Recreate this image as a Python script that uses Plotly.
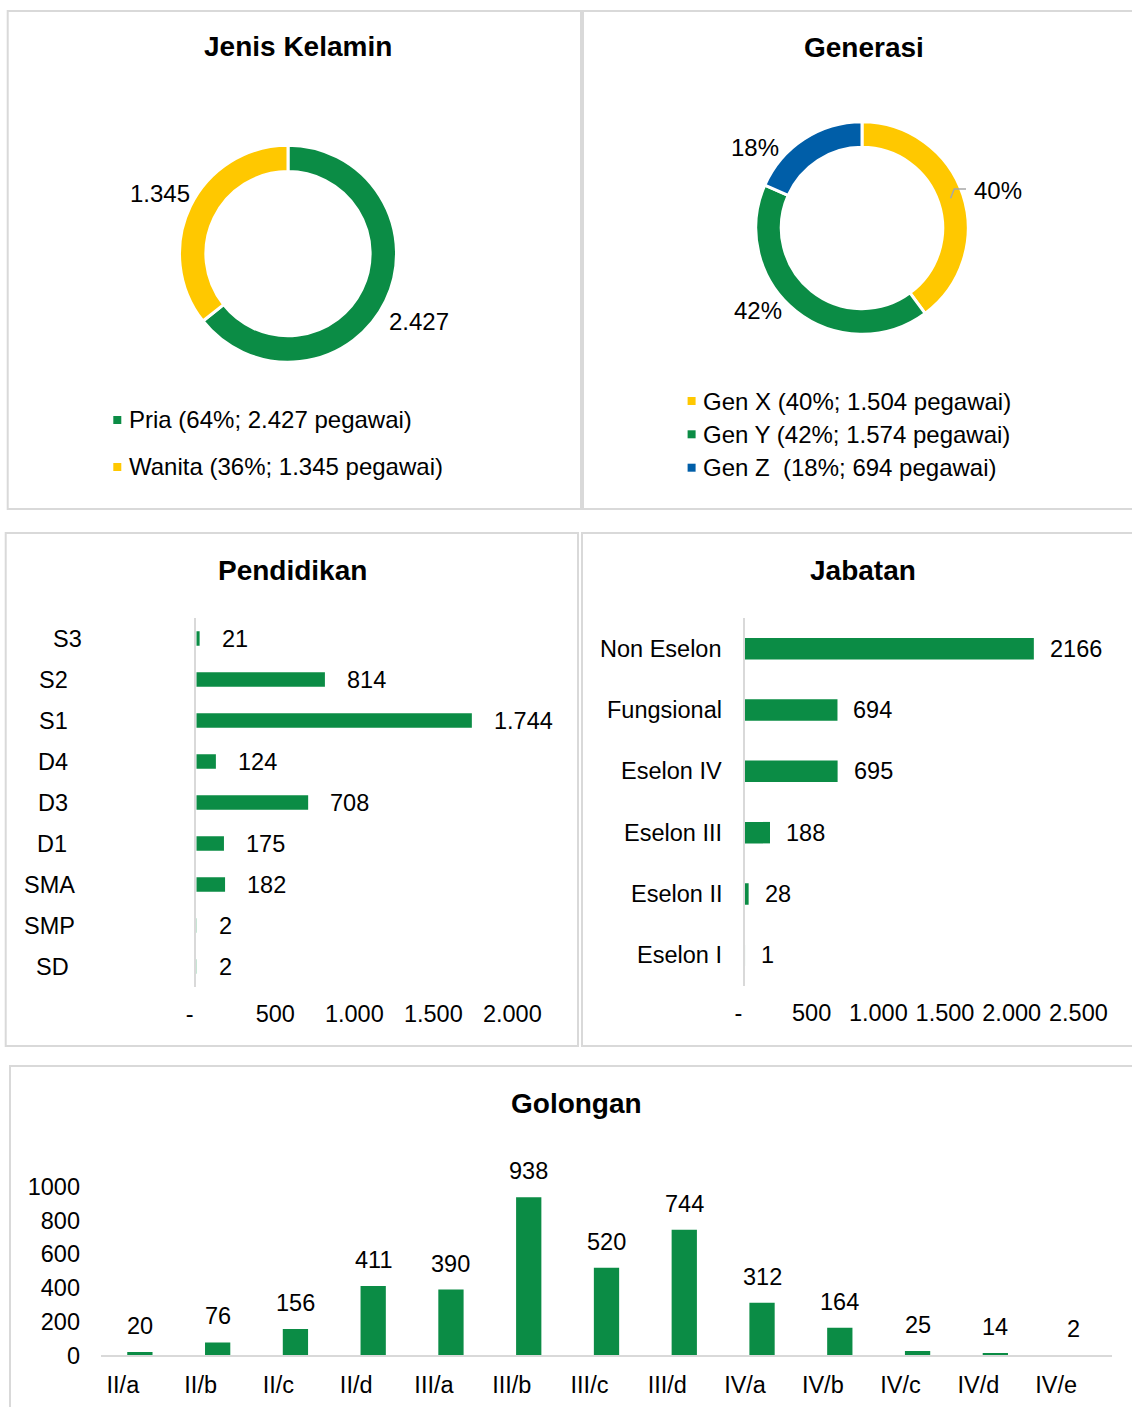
import plotly.graph_objects as go

W, H = 1132, 1407
GREEN = "#0B8C45"
YELLOW = "#FFC800"
BLUE = "#005EA8"
BORDER = "#D9D9D9"
FONT = "Liberation Sans, Arial, sans-serif"

# ---------------- data ----------------
gender_labels = ["Pria", "Wanita"]
gender_values = [2427, 1345]
gender_pct = [64, 36]

gen_labels = ["Gen X", "Gen Y", "Gen Z\u00a0"]
gen_values = [1504, 1574, 694]
gen_pct = [40, 42, 18]

edu_categories = ["S3", "S2", "S1", "D4", "D3", "D1", "SMA", "SMP", "SD"]
edu_values = [21, 814, 1744, 124, 708, 175, 182, 2, 2]
edu_ticks = [0, 500, 1000, 1500, 2000]

job_categories = ["Non Eselon", "Fungsional", "Eselon IV", "Eselon III", "Eselon II", "Eselon I"]
job_values = [2166, 694, 695, 188, 28, 1]
job_ticks = [0, 500, 1000, 1500, 2000, 2500]

grade_categories = ["II/a", "II/b", "II/c", "II/d", "III/a", "III/b", "III/c",
                    "III/d", "IV/a", "IV/b", "IV/c", "IV/d", "IV/e"]
grade_values = [20, 76, 156, 411, 390, 938, 520, 744, 312, 164, 25, 14, 2]
grade_ticks = [0, 200, 400, 600, 800, 1000]


def fx(p):
    return p / W


def fy(p):
    return 1 - p / H


def fmt_id(n):
    return f"{n:,}".replace(",", ".")


def acc_tick(n):
    return "-\u00a0\u00a0" if n == 0 else fmt_id(n)


fig = go.Figure()

# ---------------- donuts ----------------
R1 = 108.5
fig.add_trace(go.Pie(
    labels=gender_labels, values=gender_values, hole=0.757, sort=False,
    direction="clockwise", rotation=0,
    marker=dict(colors=[GREEN, YELLOW], line=dict(color="white", width=3)),
    textinfo="none", hoverinfo="skip", showlegend=False,
    domain=dict(x=[fx(288 - R1), fx(288 + R1)], y=[fy(253.7 + R1), fy(253.7 - R1)]),
))
R2 = 106.2
fig.add_trace(go.Pie(
    labels=gen_labels, values=gen_values, hole=0.76, sort=False,
    direction="clockwise", rotation=0,
    marker=dict(colors=[YELLOW, GREEN, BLUE], line=dict(color="white", width=3)),
    textinfo="none", hoverinfo="skip", showlegend=False,
    domain=dict(x=[fx(862 - R2), fx(862 + R2)], y=[fy(228 + R2), fy(228 - R2)]),
))

# ---------------- bars ----------------
fig.add_trace(go.Bar(
    x=edu_values, y=edu_categories, orientation="h", width=0.35,
    marker=dict(color=GREEN, line_width=0), hoverinfo="skip", showlegend=False,
    xaxis="x", yaxis="y",
))
fig.add_trace(go.Bar(
    x=job_values, y=job_categories, orientation="h", width=0.35,
    marker=dict(color=GREEN, line_width=0), hoverinfo="skip", showlegend=False,
    xaxis="x2", yaxis="y2",
))
fig.add_trace(go.Bar(
    x=grade_categories, y=grade_values, width=0.325,
    marker=dict(color=GREEN, line_width=0), hoverinfo="skip", showlegend=False,
    xaxis="x3", yaxis="y3",
))

TICKFONT = dict(family=FONT, size=23.5, color="black")
common = dict(showgrid=False, zeroline=False, fixedrange=True, tickfont=TICKFONT,
              ticks="", automargin=False)

fig.update_layout(
    template="none",
    width=W, height=H, autosize=False,
    margin=dict(l=0, r=0, t=0, b=0, pad=0),
    paper_bgcolor="white", plot_bgcolor="white",
    font=dict(family=FONT, color="black"),
    xaxis=dict(domain=[fx(196.3), fx(512.3)], range=[0, 2000], anchor="y",
               tickmode="array", tickvals=edu_ticks, ticktext=[acc_tick(v) for v in edu_ticks],
               showline=False, ticklabelstandoff=10, **common),
    yaxis=dict(domain=[fy(987), fy(618)], anchor="x", type="category",
               categoryorder="array", categoryarray=edu_categories, range=[8.5, -0.5],
               showline=True, linecolor=BORDER, linewidth=2, showticklabels=False, **common),
    xaxis2=dict(domain=[fx(744.9), fx(1078.4)], range=[0, 2500], anchor="y2",
                tickmode="array", tickvals=job_ticks, ticktext=[acc_tick(v) for v in job_ticks],
                showline=False, ticklabelstandoff=10, **common),
    yaxis2=dict(domain=[fy(986), fy(618)], anchor="x2", type="category",
                categoryorder="array", categoryarray=job_categories, range=[5.5, -0.5],
                showline=True, linecolor=BORDER, linewidth=2, showticklabels=False, **common),
    xaxis3=dict(domain=[fx(101), fx(1112)], range=[-0.5, 12.5], anchor="y3", type="category",
                categoryorder="array", categoryarray=grade_categories,
                showline=True, linecolor=BORDER, linewidth=2,
                ticklabelshift=-17, ticklabelstandoff=7, **common),
    yaxis3=dict(domain=[fy(1355.3), fy(1186.7)], range=[0, 1000], anchor="x3",
                tickmode="array", tickvals=grade_ticks, ticktext=[str(v) for v in grade_ticks],
                showline=False, ticklabelstandoff=20, **common),
)

shapes = []
annotations = []

# panel borders
for (x0, y0, x1, y1) in [(7.7, 11, 581, 509), (583, 11, 1134, 509),
                         (5.7, 533, 578, 1046), (582, 533, 1134, 1046),
                         (10, 1066, 1134, 1409)]:
    shapes.append(dict(type="rect", xref="paper", yref="paper",
                       x0=fx(x0), x1=fx(x1), y0=fy(y1), y1=fy(y0),
                       line=dict(color=BORDER, width=2), fillcolor="rgba(0,0,0,0)", layer="below"))

# titles
for (t, x, y) in [("Jenis Kelamin", 298, 47), ("Generasi", 864, 47.5),
                  ("Pendidikan", 292, 570), ("Jabatan", 863, 570), ("Golongan", 576, 1103)]:
    annotations.append(dict(text=f"<b>{t}</b>", x=fx(x), y=fy(y), xref="paper", yref="paper",
                            xanchor="center", yanchor="middle", showarrow=False,
                            font=dict(family=FONT, size=28, color="black")))

LBL = dict(family=FONT, size=24, color="black")

# donut labels
for (txt, x, y) in [(fmt_id(gender_values[1]), 160, 194), (fmt_id(gender_values[0]), 419, 321.7)]:
    annotations.append(dict(text=txt, x=fx(x), y=fy(y), xref="paper", yref="paper",
                            xanchor="center", yanchor="middle", showarrow=False, font=LBL))
for (txt, x, y) in [(f"{gen_pct[2]}%", 755, 147.7), (f"{gen_pct[0]}%", 998, 190),
                    (f"{gen_pct[1]}%", 758, 310.7)]:
    annotations.append(dict(text=txt, x=fx(x), y=fy(y), xref="paper", yref="paper",
                            xanchor="center", yanchor="middle", showarrow=False, font=LBL))
# leader line for 40%
shapes.append(dict(type="path", xref="paper", yref="paper",
                   path=f"M {fx(950.6)} {fy(198.3)} L {fx(954.2)} {fy(189)} L {fx(966)} {fy(189)}",
                   line=dict(color="#A6A6A6", width=1.5)))

# legends
leg1 = [(GREEN, f"{gender_labels[0]} ({gender_pct[0]}%; {fmt_id(gender_values[0])} pegawai)", 420),
        (YELLOW, f"{gender_labels[1]} ({gender_pct[1]}%; {fmt_id(gender_values[1])} pegawai)", 467)]
for (c, txt, y) in leg1:
    shapes.append(dict(type="rect", xref="paper", yref="paper", x0=fx(113.3), x1=fx(121.3),
                       y0=fy(y + 4), y1=fy(y - 4), fillcolor=c, line=dict(width=0)))
    annotations.append(dict(text=txt, x=fx(126.5), y=fy(y), xref="paper", yref="paper",
                            xanchor="left", yanchor="middle", showarrow=False, font=LBL))
gen_colors = [YELLOW, GREEN, BLUE]
for i, y in enumerate([401, 434.3, 467.7]):
    txt = f"{gen_labels[i]} ({gen_pct[i]}%; {fmt_id(gen_values[i])} pegawai)"
    shapes.append(dict(type="rect", xref="paper", yref="paper", x0=fx(687.6), x1=fx(695.6),
                       y0=fy(y + 4), y1=fy(y - 4), fillcolor=gen_colors[i], line=dict(width=0)))
    annotations.append(dict(text=txt, x=fx(701.3), y=fy(y), xref="paper", yref="paper",
                            xanchor="left", yanchor="middle", showarrow=False, font=LBL))

BFONT = dict(family=FONT, size=23.5, color="black")

# Pendidikan labels (S3 label sits slightly further right in the original)
edu_label_x = [67, 53, 53, 53, 53, 52, 49, 49, 52]
for c, v, lx in zip(edu_categories, edu_values, edu_label_x):
    annotations.append(dict(text=c, x=fx(lx), y=c, xref="paper", yref="y",
                            xanchor="center", yanchor="middle", showarrow=False, font=BFONT))
    annotations.append(dict(text=fmt_id(v), x=v, y=c, xref="x", yref="y", xshift=20,
                            xanchor="left", yanchor="middle", showarrow=False, font=BFONT))

# Jabatan labels
for c, v in zip(job_categories, job_values):
    annotations.append(dict(text=c, x=fx(724), y=c, xref="paper", yref="y2",
                            xanchor="right", yanchor="middle", showarrow=False, font=BFONT))
    annotations.append(dict(text=str(v), x=v, y=c, xref="x2", yref="y2", xshift=14,
                            xanchor="left", yanchor="middle", showarrow=False, font=BFONT))

# Golongan labels
for c, v in zip(grade_categories, grade_values):
    annotations.append(dict(text=str(v), x=c, y=v, xref="x3", yref="y3", yshift=26,
                            xanchor="center", yanchor="middle", showarrow=False, font=BFONT))

fig.update_layout(shapes=shapes, annotations=annotations)

fig.write_html("out.html", config={"displayModeBar": False, "staticPlot": True},
               post_script="document.documentElement.style.margin='0';document.body.style.margin='0';")
